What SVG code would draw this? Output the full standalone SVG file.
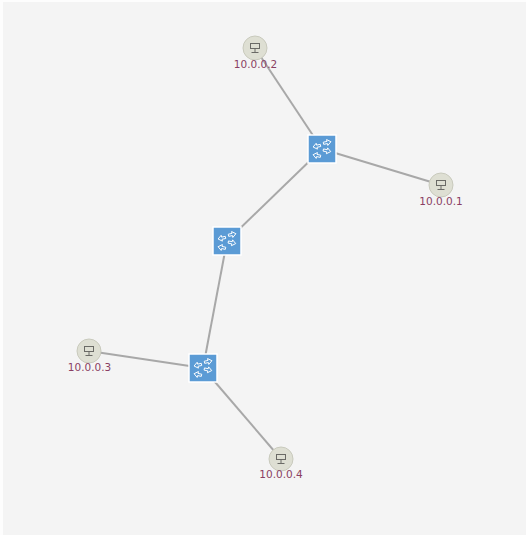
<svg xmlns="http://www.w3.org/2000/svg" width="526" height="535" viewBox="0 0 526 535">
<style>
.link{stroke:#a8a8a8;stroke-width:2;fill:none}
.sw{fill:#5b9bd5;stroke:#fff;stroke-width:1.5}
.gl{fill:none;stroke:#fff;stroke-width:.9}
.host{fill:#dedfd3;stroke:#c9cabd;stroke-width:1}
.ic{fill:none;stroke:#6a6a66;stroke-width:1}
text{font-family:"DejaVu Sans",Verdana,sans-serif;font-size:10.500px;fill:#8a3f63;text-anchor:middle}
</style>
<defs>
<path id="ar" d="M-3.800 -1.100H0V-3L3.800 0L0 3V1.100H-3.800Z"/>
<g id="swg">
<rect class="sw" x="-14" y="-14" width="28" height="28"/>
<g class="gl">
<use href="#ar" transform="translate(5.200 -6.500) rotate(-12)"/>
<use href="#ar" transform="translate(-5.200 -2.800) rotate(168)"/>
<use href="#ar" transform="translate(5 1.800) rotate(12)"/>
<use href="#ar" transform="translate(-5.200 6.500) rotate(192)"/>
</g>
</g>
<g id="hg">
<circle class="host" r="12"/>
<rect class="ic" x="-4.500" y="-4.500" width="9" height="5"/>
<path class="ic" d="M0 .500V4.500M-3.500 4.500H3.500"/>
</g>
</defs>
<rect width="526" height="535" fill="#fdfdfd"/>
<rect x="3" y="2" width="523" height="533" fill="#f4f4f4"/>
<g id="connectors">
<path class="link" d="M255 48L322 149"/>
<path class="link" d="M441 185L322 149"/>
<path class="link" d="M322 149L227 241"/>
<path class="link" d="M227 241L203 368"/>
<path class="link" d="M89 351L203 368"/>
<path class="link" d="M203 368L281 459"/>
</g>
<g id="switch1"><use href="#swg" x="322" y="149"/></g>
<g id="switch2"><use href="#swg" x="227" y="241"/></g>
<g id="switch3"><use href="#swg" x="203" y="368"/></g>
<g id="host2"><use href="#hg" x="255" y="48"/><text x="255.500" y="67.500">10.0.0.2</text></g>
<g id="host1"><use href="#hg" x="441" y="185"/><text x="441" y="204.500">10.0.0.1</text></g>
<g id="host3"><use href="#hg" x="89" y="351"/><text x="89.500" y="370.500">10.0.0.3</text></g>
<g id="host4"><use href="#hg" x="281" y="459"/><text x="281" y="477.500">10.0.0.4</text></g>
</svg>
